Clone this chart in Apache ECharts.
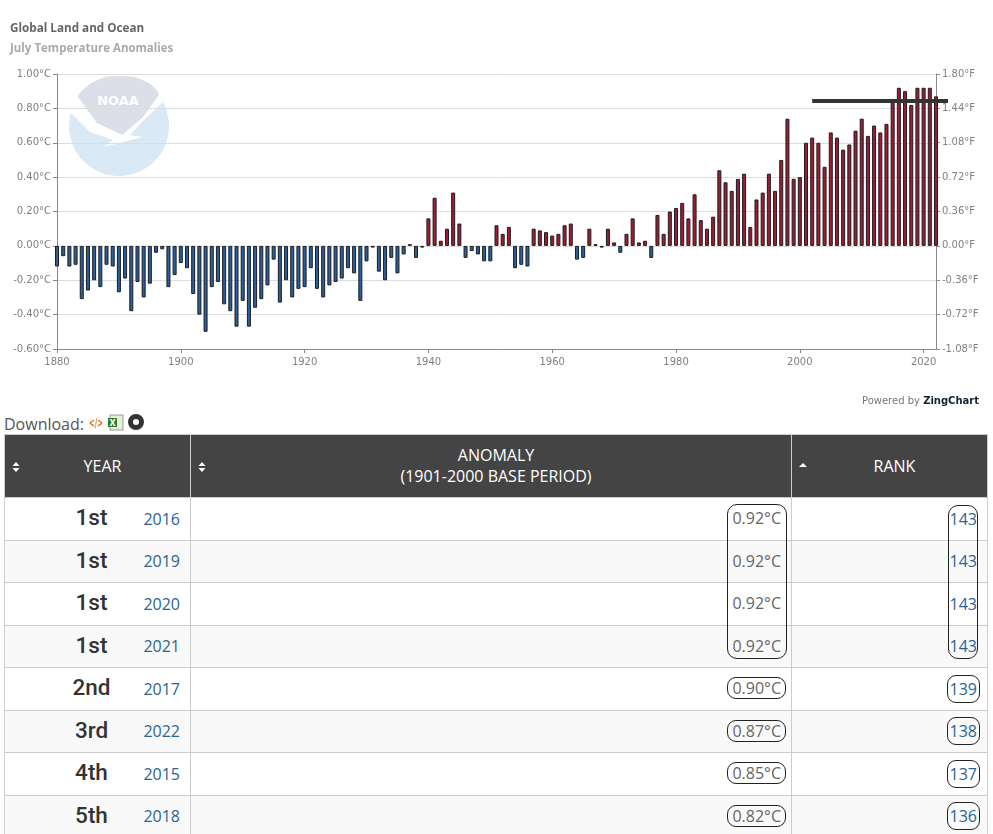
<!DOCTYPE html>
<html>
<head>
<meta charset="utf-8">
<title>Global Land and Ocean July Temperature Anomalies</title>
<script src="https://cdn.jsdelivr.net/npm/echarts@6/dist/echarts.min.js"></script>
<style>
html,body{margin:0;padding:0;background:#fff;overflow:hidden;width:993px;height:834px;font-family:"Open Sans",sans-serif;color:#555}
#chart{position:absolute;left:0;top:0;width:993px;height:412px}
#download{position:absolute;left:4px;top:412px;font-size:16px;line-height:24px;color:#555}
#icons{position:absolute;left:89px;top:413px}
#wrap{position:absolute;left:4px;top:434px;width:983px}
table{border-collapse:collapse;table-layout:fixed;width:983px}
th{background:#444;color:#fff;font-weight:400;font-size:16px;line-height:21px;height:62px;padding:0 0 0 10px;border:1px solid #ccc;position:relative;text-align:center}
td{height:42.5px;padding:0;border:1px solid #ccc;position:relative;box-sizing:border-box}
tr.odd td{background:#f9f9f9}
.ord{position:absolute;left:56.5px;top:1px;font:500 22.5px/36px Roboto,sans-serif;color:#333;width:60px;text-align:center}
.yr{position:absolute;right:10px;top:8.5px;font-size:16px;line-height:24px;color:#2a6496}
.val{position:absolute;right:5px;top:9px;font-size:16px;color:#666;padding:0 4px;border:1px solid #222;border-radius:9px;height:20px;line-height:20px}
.rnk{position:absolute;right:7px;top:6.5px;font-size:16px;line-height:24px;color:#2a6496;padding:1px 2px;border:1px solid #222;border-radius:9px}
.tied{border-color:transparent}
.group{position:absolute;border:1.5px solid #222;border-radius:10px;box-sizing:border-box;pointer-events:none}
.sort{position:absolute;left:7px;top:27px;width:8px;height:10px}
</style>
</head>
<body>
<div id="chart"></div>
<div id="download">Download:</div>
<svg id="icons" width="70" height="20">
  <text x="0" y="14" font-family="DejaVu Sans" font-size="13" font-weight="bold" fill="#e8700f" textLength="14" lengthAdjust="spacingAndGlyphs">&lt;/&gt;</text>
  <rect x="21" y="2" width="13" height="15" fill="#e8eee0" stroke="#999"/>
  <rect x="19" y="5" width="9" height="9" fill="#2f7d32"/>
  <text x="20.5" y="13" font-family="DejaVu Sans" font-size="8" font-weight="bold" fill="#fff">X</text>
  <circle cx="47" cy="9" r="5.5" fill="none" stroke="#333" stroke-width="5"/>
</svg>
<div id="wrap"></div>
<script>
// chart data
var years = [];
for (var y = 1880; y <= 2022; y++) years.push(String(y));
var anomalies = [
  -0.12,-0.06,-0.12,-0.11,-0.31,-0.26,-0.20,-0.24,-0.11,-0.12,
  -0.27,-0.19,-0.38,-0.21,-0.30,-0.22,-0.04,-0.02,-0.24,-0.17,
  -0.10,-0.13,-0.28,-0.40,-0.50,-0.24,-0.21,-0.34,-0.38,-0.47,
  -0.32,-0.47,-0.36,-0.31,-0.23,-0.08,-0.33,-0.20,-0.30,-0.25,
  -0.24,-0.13,-0.25,-0.30,-0.23,-0.21,-0.19,-0.13,-0.16,-0.32,
  -0.09,-0.01,-0.15,-0.20,-0.07,-0.16,-0.05,0.01,-0.07,-0.01,
  0.16,0.28,0.03,0.10,0.31,0.13,-0.07,-0.03,-0.05,-0.09,
  -0.09,0.12,0.07,0.11,-0.13,-0.11,-0.12,0.10,0.09,0.08,
  0.06,0.07,0.12,0.13,-0.08,-0.07,0.10,0.01,-0.01,0.10,
  0.02,-0.04,0.07,0.16,0.02,0.03,-0.07,0.18,0.07,0.20,
  0.22,0.25,0.16,0.30,0.15,0.10,0.17,0.44,0.37,0.32,
  0.39,0.42,0.11,0.27,0.31,0.42,0.32,0.50,0.74,0.39,
  0.40,0.60,0.63,0.60,0.46,0.66,0.63,0.56,0.59,0.67,
  0.74,0.64,0.70,0.66,0.71,0.85,0.92,0.90,0.82,0.92,
  0.92,0.92,0.87
];
// dark reference line across the warmest years
var refValue = 0.843;
var refStartYear = '2002';

// table data
var ordinals = ['1st','1st','1st','1st','2nd','3rd','4th','5th'];
var rowYears = [2016,2019,2020,2021,2017,2022,2015,2018];
var rowAnomalies = ['0.92°C','0.92°C','0.92°C','0.92°C','0.90°C','0.87°C','0.85°C','0.82°C'];
var rowRanks = [143,143,143,143,139,138,137,136];

var chart = echarts.init(document.getElementById('chart'));
var axisFont = {color:'#808080',fontSize:10,fontFamily:'"DejaVu Sans"'};
var tickLine = {show:true,length:4,lineStyle:{color:'#888',width:1}};

// NOAA watermark, sits under the grid lines
var logo = {
  type:'group', silent:true,
  children:[
    {type:'circle',z:-5,shape:{cx:119,cy:126,r:50},style:{fill:'#d9e9f5'}},
    {type:'polygon',z:-4,shape:{smooth:0.25,points:[[78,97],[90,84],[105,77],[119,76],[135,77],[150,84],[159,95],[143,117],[122,135],[97,123]]},style:{fill:'#dcdfe8'}},
    {type:'polygon',z:-3,shape:{points:[[66,105],[78,97],[97,123],[122,135],[143,117],[159,95],[165,99],[163,102],[147,117],[130,135],[142,137],[120,143],[103,147],[113,140],[90,132],[70,112]]},style:{fill:'#fff'}},
    {type:'text',z:-2,x:118,y:102,style:{text:'NOAA',fill:'#fff',font:'bold 13px "DejaVu Sans"',align:'center',verticalAlign:'middle'}}
  ]
};

chart.setOption({
  animation:false,
  backgroundColor:'#fff',
  title:[
    {text:'Global Land and Ocean',left:10,top:23,padding:0,textStyle:{fontFamily:'"Open Sans"',fontSize:11.7,fontWeight:'bold',color:'#666'}},
    {text:'July Temperature Anomalies',left:10,top:43,padding:0,textStyle:{fontFamily:'"Open Sans"',fontSize:11.5,fontWeight:'bold',color:'#aaa'}},
    {text:'Powered by {z|ZingChart}',right:14,top:396,padding:0,textStyle:{fontFamily:'"DejaVu Sans"',fontSize:10,fontWeight:'normal',color:'#777',
      rich:{z:{fontFamily:'"DejaVu Sans"',fontSize:10,fontWeight:'bold',color:'#123'}}}}
  ],
  grid:{left:57,right:57,top:74,height:275},
  xAxis:{
    type:'category',data:years,boundaryGap:false,
    axisLine:{onZero:false,lineStyle:{color:'#888'}},
    axisTick:{show:true,length:4,interval:19,lineStyle:{color:'#888'}},
    axisLabel:Object.assign({interval:19,margin:8},axisFont),
    splitLine:{show:false}
  },
  yAxis:[
    {type:'value',min:-0.6,max:1,interval:0.2,position:'left',
      axisLine:{show:true,lineStyle:{color:'#888'}},axisTick:tickLine,
      axisLabel:Object.assign({margin:6,formatter:function(v){return v.toFixed(2)+'°C';}},axisFont),
      splitLine:{show:true,lineStyle:{color:'#ddd',width:1}}},
    {type:'value',min:-1.08,max:1.8,interval:0.36,position:'right',
      axisLine:{show:true,lineStyle:{color:'#888'}},axisTick:tickLine,
      axisLabel:Object.assign({margin:6,formatter:function(v){return v.toFixed(2)+'°F';}},axisFont),
      splitLine:{show:false}}
  ],
  series:[{
    type:'bar',data:anomalies,barWidth:4,clip:false,z:3,
    itemStyle:{
      borderColor:'#1c1c22',borderWidth:1,
      color:function(p){return p.value<0?'#2a5f9e':'#a01c2e';}
    }
  }],
  graphic:[logo]
});

// reference line goes through the scales, its end runs a bit past the plot
var refStart = chart.convertToPixel({xAxisIndex:0,yAxisIndex:0},[refStartYear,refValue]);
var plotRight = chart.convertToPixel({xAxisIndex:0},years[years.length-1]);
chart.setOption({graphic:[logo,{
  type:'line',silent:true,z:10,
  shape:{x1:refStart[0],y1:refStart[1],x2:plotRight+12,y2:refStart[1]},
  style:{stroke:'#333',lineWidth:4}
}]},{replaceMerge:['graphic']});

// table below the chart
var sortBoth = '<svg class="sort" viewBox="0 0 8 10"><path d="M4 0L7.5 4H.5ZM4 10L.5 6H7.5Z" fill="#fff"/></svg>';
var sortUp = '<svg class="sort" viewBox="0 0 8 10"><path d="M4 1L8 5H0Z" fill="#fff"/></svg>';
var html = '<table><colgroup><col style="width:186px"><col style="width:601px"><col style="width:196px"></colgroup>';
html += '<tr><th>'+sortBoth+'YEAR</th><th>'+sortBoth+'ANOMALY<br>(1901-2000 BASE PERIOD)</th><th>'+sortUp+'RANK</th></tr>';
for (var i = 0; i < ordinals.length; i++) {
  var tied = rowRanks.filter(function(r){return r==rowRanks[i];}).length > 1 ? ' tied' : '';
  html += '<tr class="'+(i%2?'odd':'')+'">'
    +'<td><span class="ord">'+ordinals[i]+'</span><span class="yr">'+rowYears[i]+'</span></td>'
    +'<td><span class="val'+tied+'">'+rowAnomalies[i]+'</span></td>'
    +'<td><span class="rnk'+tied+'">'+rowRanks[i]+'</span></td></tr>';
}
html += '</table>';
html += '<div class="group" style="left:723px;top:70px;width:60px;height:155px"></div>';
html += '<div class="group" style="left:944px;top:71px;width:30px;height:154px"></div>';
document.getElementById('wrap').innerHTML = html;
</script>
</body>
</html>
